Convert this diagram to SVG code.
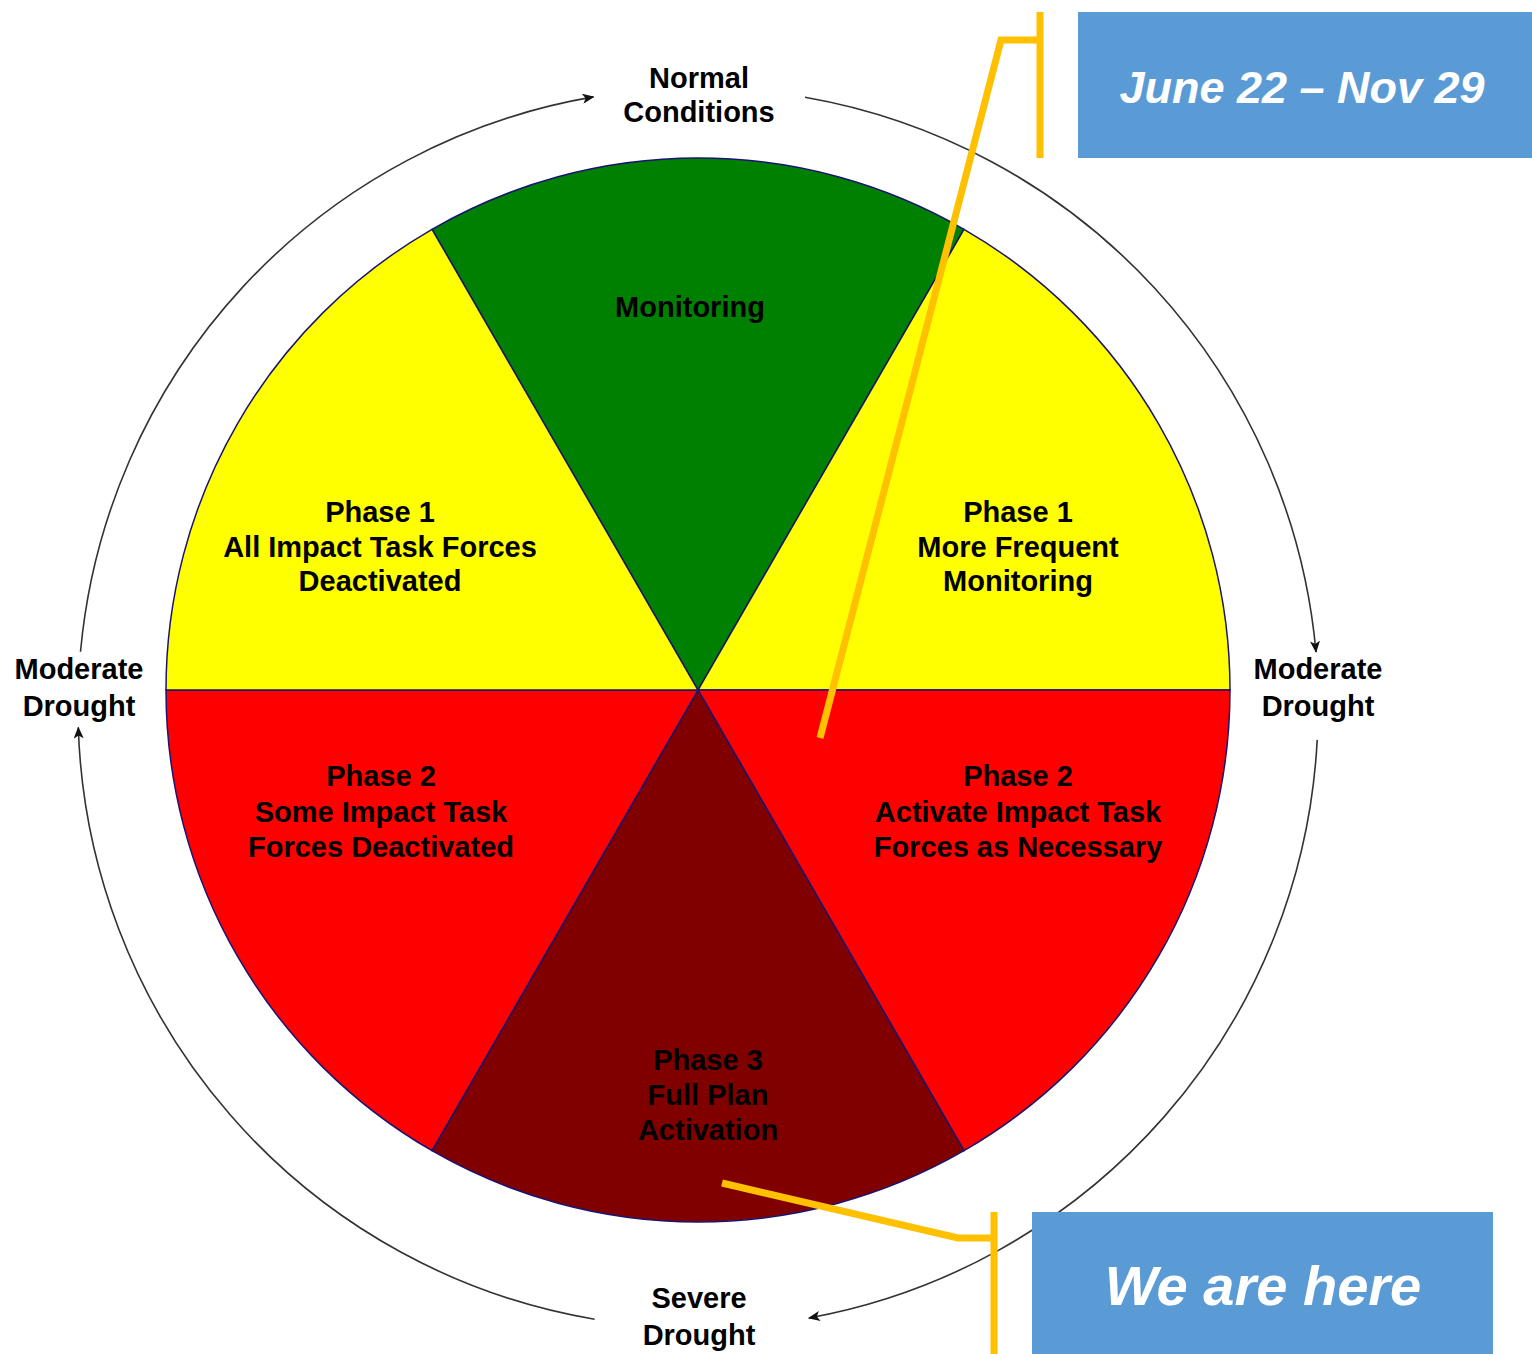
<svg xmlns="http://www.w3.org/2000/svg" width="1532" height="1354" viewBox="0 0 1532 1354">
<defs>
<style>
.lbl{font-family:"Liberation Sans",Arial,sans-serif;font-weight:bold;font-size:29px;fill:#000;text-anchor:middle}
.slice{stroke:#1a1470;stroke-width:1.5}
.arc{fill:none;stroke:#333;stroke-width:1.6}
.call{fill:none;stroke:#FFC000;stroke-width:7;stroke-linejoin:miter}
.box{fill:#5B9BD5}
.boxt{font-family:"Liberation Sans",Arial,sans-serif;font-weight:bold;font-style:italic;fill:#fff;text-anchor:middle}
</style>
<marker id="ah" viewBox="0 0 12 10" refX="11" refY="5" markerWidth="12" markerHeight="10" markerUnits="userSpaceOnUse" orient="auto">
<path d="M0,0 L12,5 L0,10 L3,5 Z" fill="#111"/>
</marker>
</defs>
<rect width="1532" height="1354" fill="#fff"/>

<g id="connectors">
<path class="arc" d="M80.5,651.8 A620,620 0 0 1 593.5,96.9" marker-end="url(#ah)"/>
<path class="arc" d="M805,97.3 A620,620 0 0 1 1316,652" marker-end="url(#ah)"/>
<path class="arc" d="M1317.2,739.9 A620,620 0 0 1 808.9,1318" marker-end="url(#ah)"/>
<path class="arc" d="M594.6,1319.3 A620,620 0 0 1 78.3,727.5" marker-end="url(#ah)"/>
</g>

<g id="pie">
<g id="monitoring">
<path class="slice" fill="#008000" d="M698,690 L432,229.3 A532,532 0 0 1 964,229.3 Z"/>
<text class="lbl" x="690" y="317">Monitoring</text>
</g>
<g id="phase1-right">
<path class="slice" fill="#FFFF00" d="M698,690 L964,229.3 A532,532 0 0 1 1230,690 Z"/>
<text class="lbl" x="1018" y="522">Phase 1</text>
<text class="lbl" x="1018" y="557">More Frequent</text>
<text class="lbl" x="1018" y="591">Monitoring</text>
</g>
<g id="phase2-right">
<path class="slice" fill="#FF0000" d="M698,690 L1230,690 A532,532 0 0 1 964,1150.7 Z"/>
<text class="lbl" x="1018" y="786">Phase 2</text>
<text class="lbl" x="1018" y="822">Activate Impact Task</text>
<text class="lbl" x="1018" y="857">Forces as Necessary</text>
</g>
<g id="phase3">
<path class="slice" fill="#800000" d="M698,690 L964,1150.7 A532,532 0 0 1 432,1150.7 Z"/>
<text class="lbl" x="708" y="1070">Phase 3</text>
<text class="lbl" x="708" y="1105">Full Plan</text>
<text class="lbl" x="708" y="1140">Activation</text>
</g>
<g id="phase2-left">
<path class="slice" fill="#FF0000" d="M698,690 L432,1150.7 A532,532 0 0 1 166,690 Z"/>
<text class="lbl" x="381" y="786">Phase 2</text>
<text class="lbl" x="381" y="822">Some Impact Task</text>
<text class="lbl" x="381" y="857">Forces Deactivated</text>
</g>
<g id="phase1-left">
<path class="slice" fill="#FFFF00" d="M698,690 L166,690 A532,532 0 0 1 432,229.3 Z"/>
<text class="lbl" x="380" y="522">Phase 1</text>
<text class="lbl" x="380" y="557">All Impact Task Forces</text>
<text class="lbl" x="380" y="591">Deactivated</text>
</g>
</g>

<g id="label-normal">
<text class="lbl" x="699" y="88">Normal</text>
<text class="lbl" x="699" y="122">Conditions</text>
</g>
<g id="label-moderate-left">
<text class="lbl" x="79" y="679">Moderate</text>
<text class="lbl" x="79" y="716">Drought</text>
</g>
<g id="label-moderate-right">
<text class="lbl" x="1318" y="679">Moderate</text>
<text class="lbl" x="1318" y="716">Drought</text>
</g>
<g id="label-severe">
<text class="lbl" x="699" y="1308">Severe</text>
<text class="lbl" x="699" y="1345">Drought</text>
</g>

<g id="callout-date">
<path class="call" d="M820,738 L1001,40 L1040,40"/>
<line class="call" x1="1040" y1="12" x2="1040" y2="158"/>
<rect class="box" x="1078" y="12" width="454" height="146"/>
<text class="boxt" x="1302" y="103" font-size="45">June 22 – Nov 29</text>
</g>

<g id="callout-here">
<path class="call" d="M722,1183 L958,1238 L994,1238"/>
<line class="call" x1="994" y1="1212" x2="994" y2="1354"/>
<rect class="box" x="1032" y="1212" width="461" height="142"/>
<text class="boxt" x="1263" y="1305" font-size="56">We are here</text>
</g>
</svg>
